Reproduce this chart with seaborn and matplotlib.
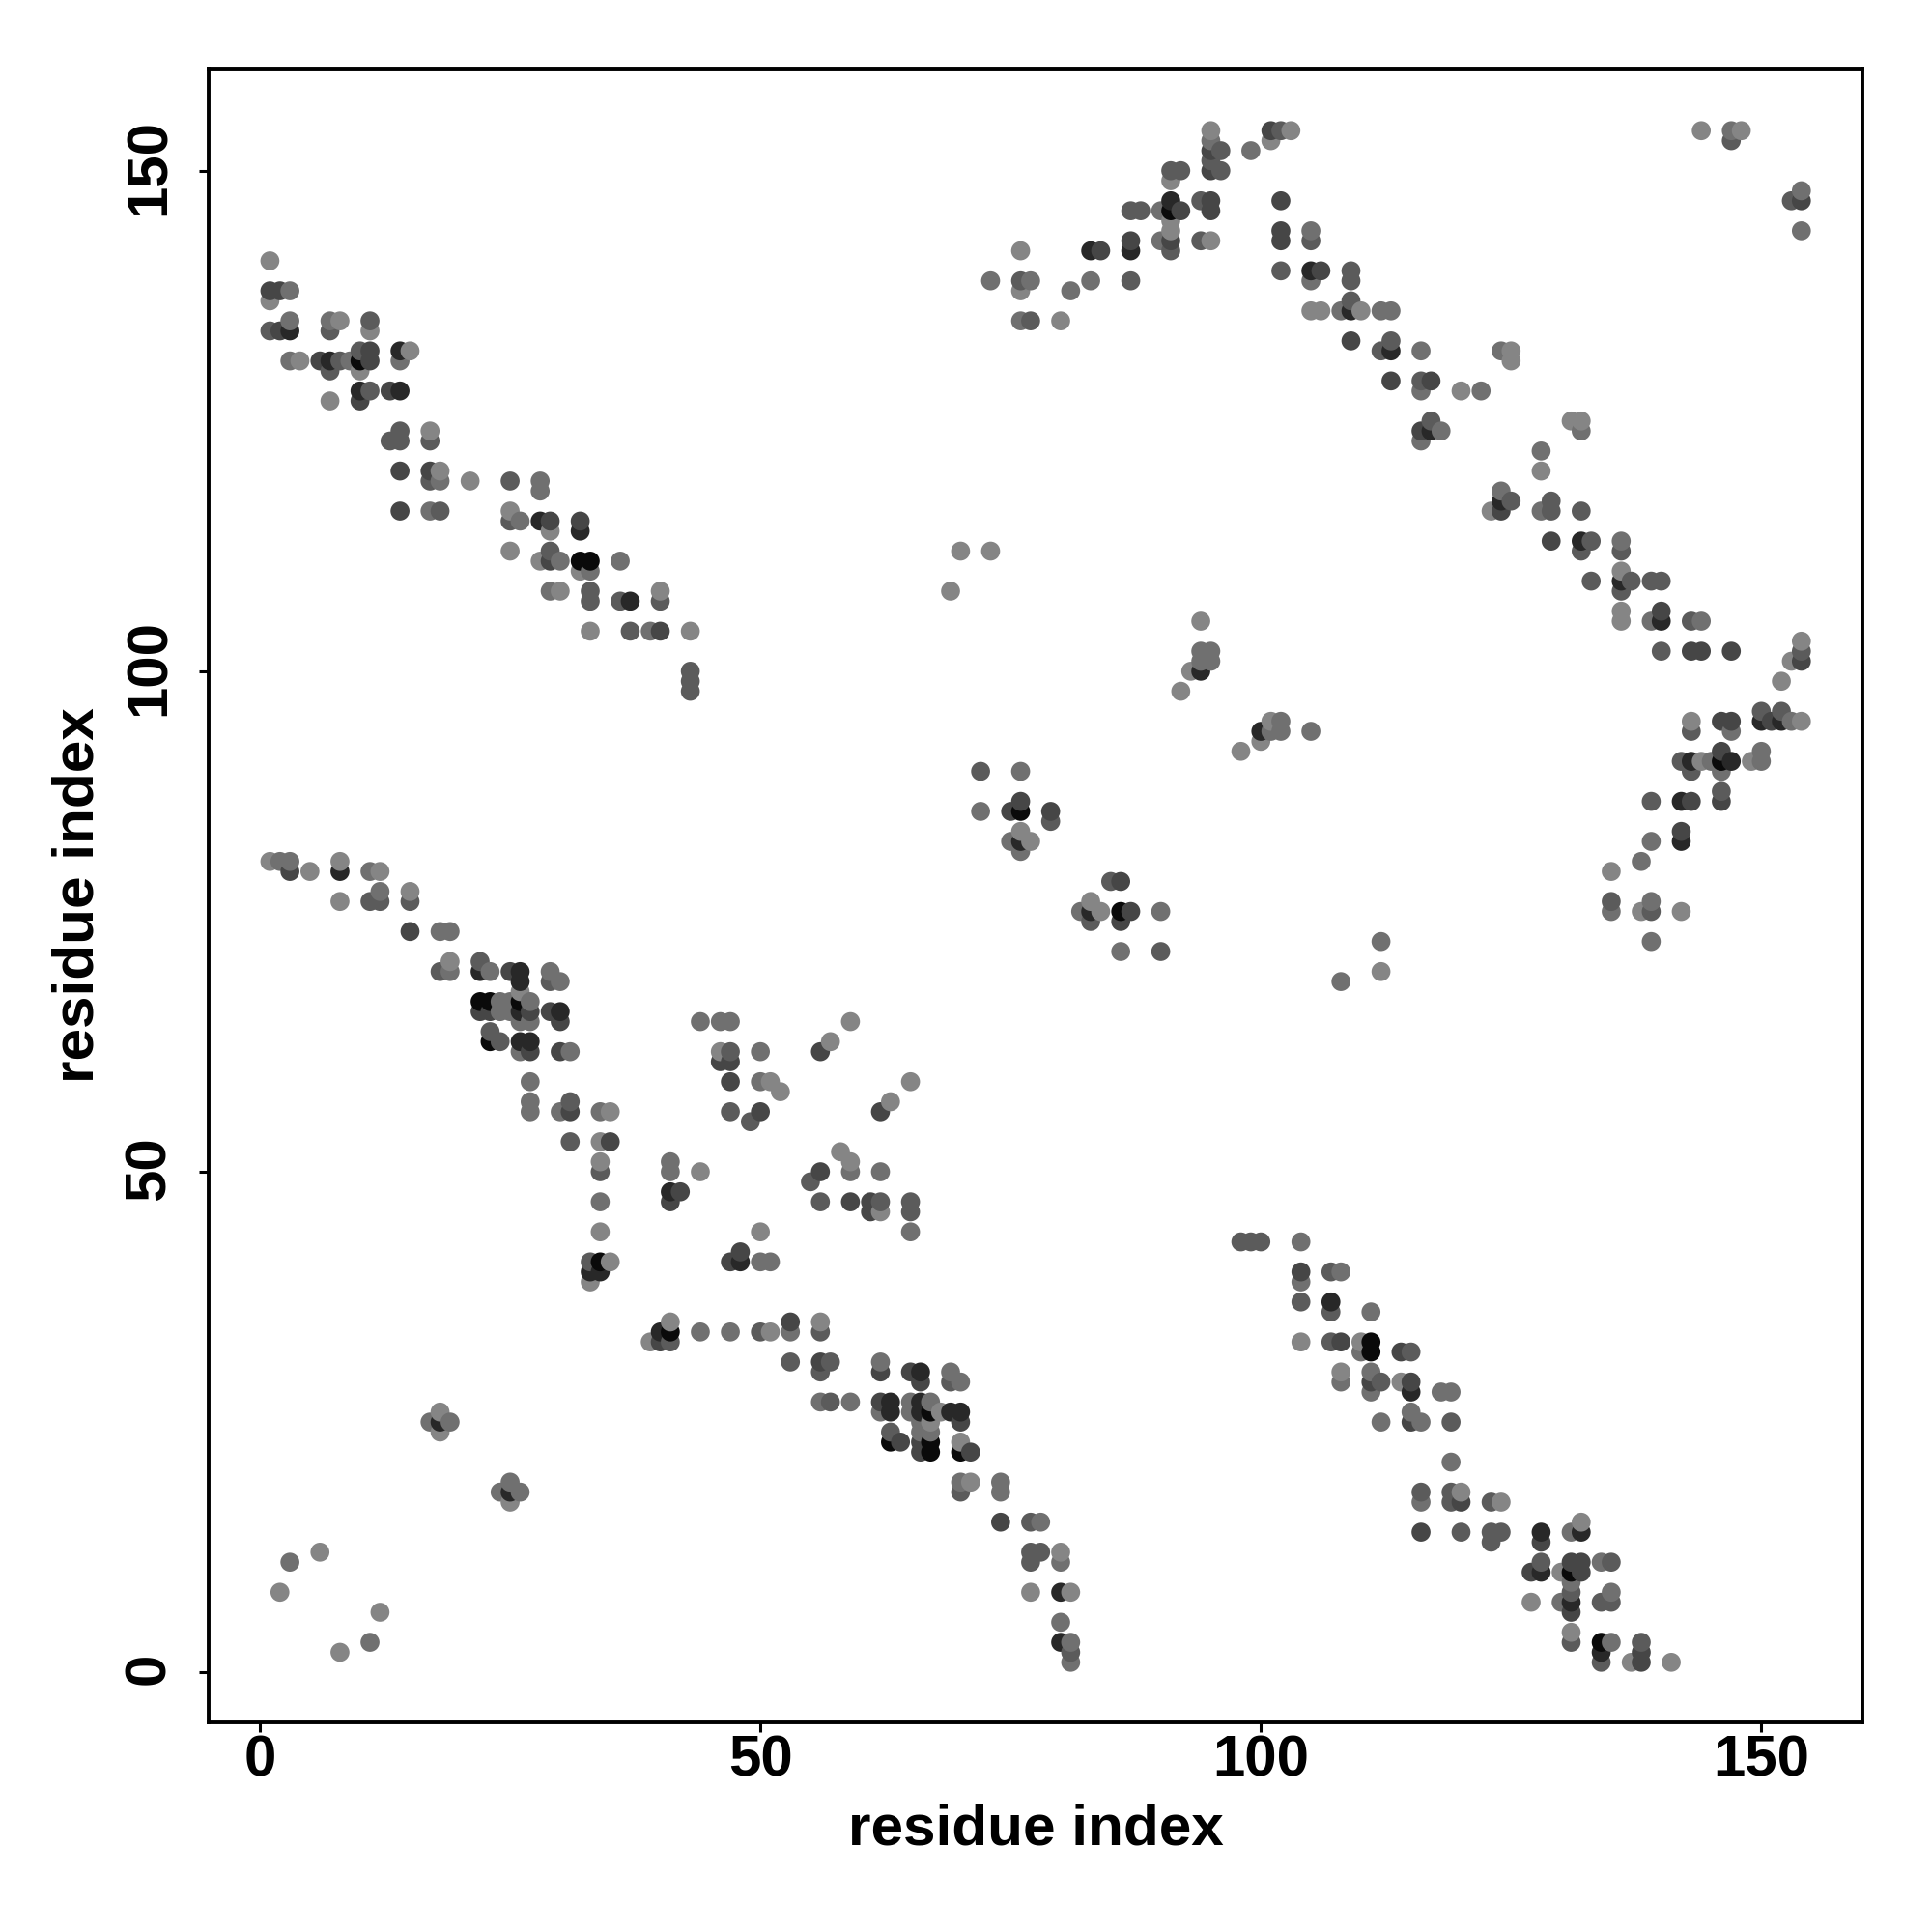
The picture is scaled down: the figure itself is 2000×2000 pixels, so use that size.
import matplotlib
matplotlib.use("Agg")
import matplotlib.pyplot as plt
from matplotlib.transforms import ScaledTranslation
import pandas as pd
import seaborn as sns

# contacts: (residue i, residue j, strength class 1 = weak ... 6 = strongest)
upper_left = [
(1,141,1),(1,138,4),(2,138,4),(3,138,2),(1,137,1),(3,135,2),(7,135,2),(8,135,1),(11,135,3),
(1,134,3),(2,134,4),(3,134,5),(7,134,3),(11,134,1),(10,132,3),(11,132,4),(14,132,5),(15,132,1),
(3,131,2),(4,131,1),(6,131,4),(7,131,5),(8,131,3),(9,131,2),(10,131,6),(11,131,4),(14,131,2),
(7,130,3),(10,130,1),(10,128,5),(11,128,3),(13,128,4),(14,128,5),(7,127,1),(10,127,4),
(14,124,3),(17,124,1),(13,123,3),(14,123,3),(17,123,3),(14,120,4),(17,120,4),(18,120,1),
(17,119,3),(18,119,2),(21,119,1),(25,119,3),(28,119,2),(28,118,2),(14,116,4),(17,116,2),(18,116,3),
(25,116,1),(25,115,3),(26,115,2),(28,115,5),(29,115,4),(32,115,4),(29,114,1),(32,114,5),
(25,112,1),(29,112,3),(28,111,1),(29,111,4),(30,111,2),(32,111,6),(33,111,6),(36,111,2),
(32,110,1),(33,110,2),(29,108,2),(30,108,1),(33,108,3),(40,108,1),(33,107,3),(36,107,3),(37,107,5),
(40,107,3),(33,104,1),(37,104,3),(39,104,2),(40,104,4),(43,104,1),(43,100,3),(43,99,3),(43,98,3),
]
lower_left = [
(1,81,1),(2,81,2),(3,81,2),(8,81,1),(3,80,4),(5,80,1),(8,80,5),(11,80,2),(12,80,1),(12,78,2),(15,78,1),
(8,77,1),(11,77,3),(12,77,3),(15,77,3),(15,74,4),(18,74,2),(19,74,2),(19,71,1),(22,71,3),
(18,70,3),(19,70,2),(22,70,5),(23,70,2),(25,70,4),(26,70,5),(29,70,2),(26,69,5),(29,69,3),(30,69,2),
(26,68,1),(22,67,6),(23,67,6),(24,67,2),(25,67,2),(26,67,6),(27,67,2),(22,66,4),(23,66,4),(24,66,2),
(25,66,2),(26,66,5),(27,66,4),(29,66,4),(30,66,5),(26,65,2),(27,65,2),(30,65,4),(23,64,3),
(23,63,6),(24,63,3),(26,63,5),(27,63,5),(26,62,2),(27,62,4),(30,62,4),(31,62,2),(27,59,2),(27,57,2),
(31,57,3),(27,56,2),(30,56,2),(31,56,4),(34,56,2),(35,56,1),(31,53,3),(34,53,1),(35,53,4),
(34,51,1),(34,50,3),(34,47,2),(34,44,1),(33,41,3),(34,41,6),(35,41,1),(33,40,5),(34,40,5),(33,39,1),
(2,8,1),(3,11,2),(6,12,1),(8,2,1),(11,3,2),(12,6,1),(17,25,2),(18,26,1),(18,25,5),(18,24,1),(19,25,2),
(24,18,2),(25,19,2),(25,18,5),(25,17,1),(26,18,2),
]
center_left = [
(41,51,2),(41,50,2),(44,50,1),(41,48,5),(42,48,4),(41,47,4),(44,65,2),(46,65,2),(47,65,2),(59,65,1),
(46,62,1),(47,62,3),(50,62,2),(57,63,1),(56,62,4),(46,61,4),(47,61,4),(47,59,4),(50,59,2),(51,59,1),
(65,59,1),(52,58,1),(63,57,1),(47,56,3),(50,56,4),(62,56,4),(49,55,3),(58,52,1),(59,51,1),
(56,50,4),(59,50,2),(62,50,2),(55,49,3),(56,47,3),(59,47,4),(61,47,4),(62,47,3),(65,47,3),(61,46,4),
(62,46,1),(65,46,3),(50,44,1),(65,44,2),(48,42,4),(47,41,4),(48,41,5),(50,41,2),(51,41,2),
(41,35,1),(53,35,4),(56,35,1),(40,34,5),(41,34,6),(44,34,2),(47,34,2),(50,34,3),(51,34,1),(53,34,2),
(56,34,3),(39,33,1),(40,33,4),(41,33,3),
]
lower_mid = [
(53,31,3),(56,31,4),(57,31,3),(62,31,2),(56,30,3),(62,30,4),(65,30,4),(66,30,5),(69,30,2),
(66,29,4),(69,29,3),(70,29,2),(56,27,2),(57,27,3),(59,27,2),(62,27,4),(63,27,5),(65,27,2),(66,27,5),(67,27,2),
(62,26,2),(63,26,5),(65,26,2),(66,26,5),(67,26,6),(68,26,1),(69,26,5),(70,26,5),(66,25,2),(67,25,1),(70,25,4),
(63,24,3),(66,24,2),(67,24,2),(63,23,6),(64,23,4),(66,23,4),(67,23,6),(70,23,1),(66,22,4),(67,22,6),(70,22,6),(71,22,4),
(70,19,2),(71,19,1),(74,19,2),(70,18,3),(74,18,2),(74,15,4),(77,15,3),(78,15,2),(77,12,3),(78,12,3),(80,12,1),
(77,11,3),(80,11,2),(77,8,1),(80,8,5),(81,8,1),(80,5,2),(80,3,5),(81,3,2),(81,2,3),(81,1,2),
]
top_mid = [
(95,154,1),(101,154,4),(102,154,3),(103,154,1),(95,153,2),(101,153,1),(95,152,4),(96,152,3),(99,152,2),(95,151,3),
(91,150,3),(92,150,3),(95,150,4),(96,150,3),(91,149,1),(91,147,5),(94,147,3),(95,147,4),(102,147,4),
(87,146,3),(88,146,3),(90,146,2),(91,146,6),(92,146,4),(95,146,4),(91,145,1),(91,144,1),(102,144,4),(105,144,2),
(87,143,4),(90,143,2),(91,143,4),(94,143,3),(95,143,1),(102,143,4),(105,143,3),(76,142,1),(83,142,5),(84,142,4),
(87,142,5),(91,142,3),(102,140,3),(105,140,5),(106,140,4),(109,140,3),(73,139,2),(76,139,3),(77,139,2),(83,139,2),
(87,139,3),(105,139,2),(109,139,3),(76,138,1),(81,138,2),(109,137,3),(105,136,1),(106,136,1),(108,136,2),(109,136,5),
(110,136,1),(112,136,2),(113,136,2),(76,135,2),(77,135,3),(80,135,1),(109,133,4),(113,133,3),(112,132,3),(113,132,5),(116,132,2),
]
upper_right = [
(124,132,2),(125,132,1),(125,131,1),(113,129,4),(116,129,3),(117,129,4),(116,128,2),(120,128,1),(122,128,2),
(117,125,3),(131,125,1),(132,125,1),(116,124,4),(117,124,5),(118,124,2),(132,124,2),(116,123,2),(128,122,2),(128,120,1),
(124,118,2),(124,117,5),(125,117,3),(129,117,3),(123,116,1),(124,116,4),(128,116,2),(129,116,3),(132,116,3),
(129,113,4),(132,113,5),(133,113,3),(136,113,2),(132,112,3),(136,112,3),(136,110,1),(133,109,3),(136,109,5),(137,109,3),
(139,109,3),(140,109,3),(136,108,3),(136,106,1),(140,106,4),(136,105,1),(139,105,2),(140,105,5),(143,105,3),(144,105,2),
(140,102,3),(143,102,4),(144,102,4),(147,102,4),(154,103,1),(154,102,3),(153,101,1),(154,101,4),
(144,154,1),(147,154,2),(148,154,1),(147,153,3),(153,147,3),(154,148,2),(154,147,4),(154,144,2),
]
right_side = [
(152,99,1),(150,96,3),(152,96,3),(143,95,1),(146,95,4),(147,95,4),(150,95,5),(151,95,4),(152,95,5),(153,95,2),(154,95,1),
(143,94,3),(147,94,2),(146,92,4),(150,92,2),(142,91,3),(143,91,5),(144,91,1),(145,91,2),(146,91,6),(147,91,5),(149,91,1),(150,91,2),
(143,90,3),(146,90,2),(146,88,3),(139,87,3),(142,87,5),(143,87,4),(146,87,4),(142,84,4),(139,83,2),(142,83,5),(138,81,2),(135,80,1),
(135,77,3),(139,77,2),(135,76,2),(138,76,1),(139,76,3),(142,76,1),(139,73,2),
]
middle = [
(69,108,1),(70,112,1),(73,112,1),(94,105,1),(94,102,2),(95,102,2),(94,101,2),(95,101,2),(93,100,1),(94,100,5),(92,98,1),
(101,95,1),(102,95,2),(100,94,5),(101,94,2),(102,94,2),(105,94,2),(100,93,1),(98,92,1),
(72,90,3),(76,90,2),(76,87,4),(72,86,2),(75,86,4),(76,86,6),(79,86,4),(79,85,3),(76,84,1),(75,83,2),(76,83,5),(77,83,1),(76,82,2),
(85,79,3),(86,79,4),(83,77,1),(82,76,2),(83,76,5),(84,76,1),(86,76,6),(87,76,4),(90,76,2),(83,75,3),(86,75,4),(86,72,2),(90,72,3),
(112,73,2),(112,70,1),(108,69,2),
]
lower_right = [
(98,43,3),(99,43,3),(100,43,3),(104,43,2),(104,40,4),(107,40,3),(108,40,2),(104,39,2),(104,37,3),(107,37,5),(107,36,3),(111,36,2),
(104,33,1),(107,33,3),(108,33,4),(110,33,1),(111,33,6),(110,32,2),(111,32,6),(114,32,4),(115,32,3),(108,30,1),(111,30,2),
(108,29,2),(111,29,4),(112,29,3),(114,29,1),(115,29,4),(111,28,2),(115,28,5),(118,28,2),(119,28,2),(115,26,2),(112,25,2),(115,25,4),(116,25,2),(119,25,3),
(119,21,2),(116,18,3),(119,18,3),(120,18,1),(116,17,2),(119,17,3),(120,17,4),(123,17,3),(124,17,1),
(116,14,4),(120,14,3),(123,14,3),(124,14,3),(128,14,5),(131,14,2),(132,14,5),(132,15,1),(123,13,3),(128,13,4),
(128,11,3),(131,11,4),(132,11,4),(134,11,2),(135,11,3),(127,10,4),(128,10,5),(130,10,1),(131,10,6),(132,10,4),
(131,9,2),(131,8,3),(135,8,2),(127,7,1),(130,7,2),(131,7,5),(134,7,3),(135,7,3),(131,6,4),(131,4,1),(131,3,3),
(134,3,6),(135,3,2),(138,3,3),(134,2,5),(138,2,4),(134,1,3),(137,1,1),(138,1,4),(141,1,1),
]
tick_values = [0, 50, 100, 150]
axis_title = "residue index"

contacts = pd.DataFrame(
    upper_left + lower_left + center_left + lower_mid + top_mid + upper_right + right_side + middle + lower_right,
    columns=["i", "j", "strength"],
).sort_values(["i", "j"])

shades = {1: "#858585", 2: "#707070", 3: "#5b5b5b", 4: "#464646", 5: "#282828", 6: "#0a0a0a"}

sns.set_style("white")
plt.rcParams["font.family"] = ["Liberation Sans", "DejaVu Sans"]
plt.rcParams["font.weight"] = "bold"

fig = plt.figure(figsize=(10, 10), dpi=200)
ax = fig.add_axes([216 / 2000, 1 - 1783 / 2000, (1928 - 216) / 2000, (1783 - 71) / 2000])
sns.scatterplot(data=contacts, x="i", y="j", hue="strength", palette=shades, s=50,
                linewidth=0, legend=False, ax=ax, clip_on=True)
ax.set_xlim(-5.12, 160.1)
ax.set_ylim(-5.0, 160.2)
ax.set_xticks(tick_values)
ax.set_yticks(tick_values)
ax.tick_params(axis="both", which="major", length=3.6, width=1.1, color="black", labelsize=21.6,
               bottom=True, left=True, labelcolor="black")
ax.tick_params(axis="x", pad=0.8)
ax.tick_params(axis="y", pad=18.4)
shift_up = ScaledTranslation(0, 3.5 / 200, fig.dpi_scale_trans)
for lab in ax.get_yticklabels():
    lab.set_rotation(90)
    lab.set_va("center")
    lab.set_rotation_mode("anchor")
    lab.set_ha("center")
    lab.set_transform(lab.get_transform() + shift_up)
ax.set_xlabel(axis_title, fontsize=21.7, fontweight="bold", color="black")
ax.set_ylabel(axis_title, fontsize=21.7, fontweight="bold", color="black")
ax.xaxis.set_label_coords(0.5, -(1894 - 1783) / 1712, transform=ax.transAxes)
ax.yaxis.set_label_coords(-(216 - 81) / 1712, 0.5, transform=ax.transAxes)
ax.xaxis.label.set_va("center")
ax.yaxis.label.set_va("center")
for s in ax.spines.values():
    s.set_visible(True)
    s.set_color("black")
    s.set_linewidth(1.4)
fig.savefig("out.png", dpi=200, facecolor="white")
